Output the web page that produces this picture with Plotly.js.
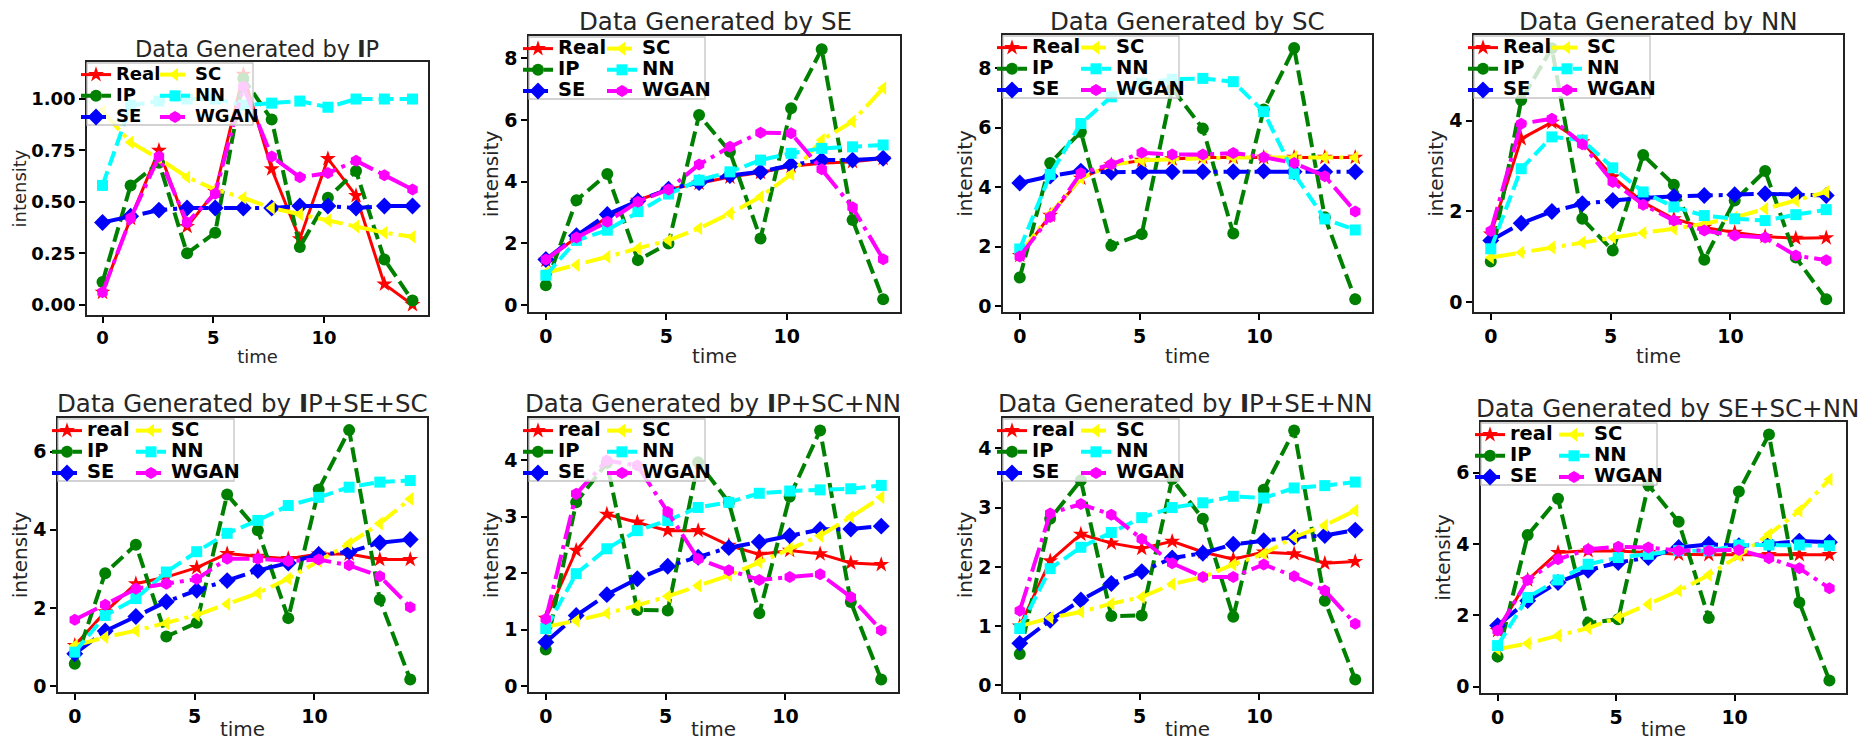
<!DOCTYPE html>
<html><head><meta charset="utf-8">
<script src="https://cdn.plot.ly/plotly-3.0.1.min.js"></script>
<style>html,body{margin:0;padding:0;background:#fff}#chart{width:1862px;height:741px}</style>
</head><body><div id="chart"></div>
<script>
// time points
const t = [0, 1.27, 2.55, 3.82, 5.09, 6.36, 7.64, 8.91, 10.18, 11.45, 12.73, 14];

// Panel 1: Data Generated by IP
const p1_real = [0.06, 0.42, 0.75, 0.38, 0.55, 1.12, 0.66, 0.32, 0.71, 0.53, 0.10, 0.00];
const p1_ip   = [0.11, 0.58, 0.69, 0.25, 0.35, 1.10, 0.90, 0.28, 0.52, 0.65, 0.22, 0.02];
const p1_se   = [0.40, 0.43, 0.46, 0.47, 0.47, 0.47, 0.47, 0.48, 0.48, 0.47, 0.48, 0.48];
const p1_sc   = [0.94, 0.79, 0.71, 0.62, 0.56, 0.52, 0.47, 0.44, 0.41, 0.38, 0.35, 0.33];
const p1_nn   = [0.58, 0.97, 0.99, 1.00, 1.00, 0.97, 0.98, 0.99, 0.96, 1.00, 1.00, 1.00];
const p1_wgan = [0.06, 0.42, 0.72, 0.40, 0.54, 1.06, 0.72, 0.62, 0.64, 0.70, 0.63, 0.56];

// Panel 2: Data Generated by SE
const p2_real = [1.45, 2.20, 2.85, 3.40, 3.75, 3.95, 4.15, 4.30, 4.50, 4.60, 4.65, 4.75];
const p2_ip   = [0.65, 3.40, 4.25, 1.46, 2.00, 6.16, 4.97, 2.16, 6.38, 8.29, 2.76, 0.19];
const p2_se   = [1.48, 2.25, 2.94, 3.38, 3.76, 3.97, 4.20, 4.32, 4.54, 4.70, 4.70, 4.76];
const p2_sc   = [1.05, 1.30, 1.57, 1.84, 2.10, 2.49, 2.97, 3.51, 4.24, 5.35, 5.95, 7.03];
const p2_nn   = [0.97, 2.10, 2.43, 3.03, 3.60, 4.05, 4.32, 4.70, 4.92, 5.08, 5.13, 5.19];
const p2_wgan = [1.48, 2.19, 2.70, 3.35, 3.75, 4.56, 5.13, 5.59, 5.57, 4.40, 3.17, 1.49];

// Panel 3: Data Generated by SC
const p3_real = [1.70, 3.05, 4.30, 4.75, 4.90, 4.95, 5.00, 5.00, 5.00, 5.00, 5.00, 5.00];
const p3_ip   = [0.96, 4.81, 5.86, 2.03, 2.42, 7.32, 5.97, 2.44, 6.61, 8.68, 2.99, 0.23];
const p3_se   = [4.14, 4.37, 4.54, 4.50, 4.52, 4.52, 4.52, 4.52, 4.54, 4.52, 4.52, 4.52];
const p3_sc   = [1.75, 3.10, 4.30, 4.75, 4.90, 4.95, 4.97, 5.00, 5.00, 5.00, 5.00, 5.00];
const p3_nn   = [1.92, 4.43, 6.14, 7.04, 7.50, 7.63, 7.66, 7.55, 6.54, 4.45, 2.93, 2.56];
const p3_wgan = [1.67, 3.00, 4.47, 4.77, 5.16, 5.10, 5.10, 5.15, 5.01, 4.81, 4.37, 3.18];

// Panel 4: Data Generated by NN
const p4_real = [1.50, 3.60, 3.96, 3.53, 2.76, 2.20, 1.84, 1.65, 1.54, 1.45, 1.41, 1.42];
const p4_ip   = [0.90, 4.45, 5.59, 1.84, 1.14, 3.24, 2.59, 0.94, 2.24, 2.89, 0.99, 0.07];
const p4_se   = [1.36, 1.74, 2.00, 2.17, 2.24, 2.30, 2.33, 2.35, 2.37, 2.39, 2.37, 2.35];
const p4_sc   = [0.99, 1.10, 1.21, 1.32, 1.43, 1.53, 1.62, 1.73, 1.87, 2.06, 2.24, 2.43];
const p4_nn   = [1.18, 2.94, 3.64, 3.57, 2.96, 2.43, 2.10, 1.91, 1.84, 1.80, 1.93, 2.04];
const p4_wgan = [1.57, 3.93, 4.04, 3.48, 2.65, 2.15, 1.80, 1.58, 1.47, 1.43, 1.03, 0.93];

// Panel 5: Data Generated by IP+SE+SC
const p5_real = [1.04, 1.90, 2.62, 2.79, 3.03, 3.39, 3.32, 3.26, 3.38, 3.38, 3.24, 3.24];
const p5_ip   = [0.57, 2.89, 3.62, 1.27, 1.62, 4.90, 3.99, 1.74, 5.03, 6.55, 2.21, 0.17];
const p5_se   = [0.83, 1.41, 1.78, 2.16, 2.45, 2.70, 2.96, 3.15, 3.37, 3.43, 3.67, 3.75];
const p5_sc   = [1.04, 1.25, 1.42, 1.61, 1.82, 2.10, 2.38, 2.75, 3.20, 3.65, 4.16, 4.79];
const p5_nn   = [0.87, 1.81, 2.24, 2.92, 3.44, 3.91, 4.24, 4.62, 4.83, 5.09, 5.22, 5.26];
const p5_wgan = [1.70, 2.08, 2.49, 2.62, 2.74, 3.26, 3.26, 3.20, 3.24, 3.09, 2.81, 2.02];

// Panel 6: Data Generated by IP+SC+NN
const p6_real = [1.20, 2.40, 3.04, 2.90, 2.75, 2.75, 2.49, 2.33, 2.40, 2.34, 2.18, 2.15];
const p6_ip   = [0.65, 3.25, 3.95, 1.35, 1.34, 3.96, 3.25, 1.29, 3.35, 4.52, 1.49, 0.12];
const p6_se   = [0.78, 1.25, 1.62, 1.90, 2.12, 2.28, 2.45, 2.55, 2.66, 2.77, 2.78, 2.83];
const p6_sc   = [1.05, 1.16, 1.29, 1.43, 1.59, 1.78, 1.96, 2.19, 2.43, 2.66, 2.99, 3.34];
const p6_nn   = [1.02, 1.99, 2.43, 2.75, 2.93, 3.16, 3.25, 3.41, 3.45, 3.47, 3.49, 3.55];
const p6_wgan = [1.19, 3.40, 3.99, 3.90, 3.08, 2.25, 2.05, 1.88, 1.93, 1.98, 1.58, 0.99];

// Panel 7: Data Generated by IP+SE+NN
const p7_real = [1.00, 2.10, 2.55, 2.40, 2.31, 2.43, 2.25, 2.13, 2.25, 2.22, 2.06, 2.09];
const p7_ip   = [0.53, 2.81, 3.46, 1.17, 1.18, 3.48, 2.81, 1.16, 3.30, 4.30, 1.43, 0.10];
const p7_se   = [0.71, 1.10, 1.44, 1.72, 1.92, 2.15, 2.23, 2.38, 2.44, 2.50, 2.53, 2.62];
const p7_sc   = [1.00, 1.14, 1.24, 1.38, 1.49, 1.71, 1.83, 2.04, 2.22, 2.50, 2.70, 2.95];
const p7_nn   = [0.96, 1.97, 2.33, 2.58, 2.83, 3.00, 3.08, 3.19, 3.16, 3.33, 3.37, 3.43];
const p7_wgan = [1.26, 2.90, 3.06, 2.88, 2.47, 2.06, 1.83, 1.83, 2.04, 1.84, 1.60, 1.04];

// Panel 8: Data Generated by SE+SC+NN
const p8_real = [1.57, 2.99, 3.76, 3.81, 3.80, 3.76, 3.71, 3.70, 3.70, 3.70, 3.70, 3.70];
const p8_ip   = [0.84, 4.25, 5.27, 1.78, 1.89, 5.65, 4.62, 1.92, 5.47, 7.07, 2.36, 0.17];
const p8_se   = [1.71, 2.41, 2.92, 3.26, 3.48, 3.62, 3.90, 3.99, 3.95, 4.00, 4.08, 4.05];
const p8_sc   = [1.05, 1.21, 1.43, 1.64, 1.94, 2.31, 2.69, 3.13, 3.67, 4.27, 4.93, 5.81];
const p8_nn   = [1.15, 2.50, 2.99, 3.43, 3.62, 3.71, 3.81, 3.81, 3.97, 3.97, 3.97, 3.95];
const p8_wgan = [1.57, 2.99, 3.57, 3.85, 3.92, 3.90, 3.81, 3.81, 3.83, 3.60, 3.32, 2.76];

const titles = ['Data Generated by <b>I</b>P', 'Data Generated by SE', 'Data Generated by SC', 'Data Generated by NN',
  'Data Generated by <b>I</b>P+SE+SC', 'Data Generated by <b>I</b>P+SC+NN', 'Data Generated by <b>I</b>P+SE+NN', 'Data Generated by SE+SC+NN'];
const realLabels = ['Real', 'Real', 'Real', 'Real', 'real', 'real', 'real', 'real'];
const otherLabels = ['IP', 'SE', 'SC', 'NN', 'WGAN'];

const seriesByPanel = [
  [p1_real, p1_ip, p1_se, p1_sc, p1_nn, p1_wgan],
  [p2_real, p2_ip, p2_se, p2_sc, p2_nn, p2_wgan],
  [p3_real, p3_ip, p3_se, p3_sc, p3_nn, p3_wgan],
  [p4_real, p4_ip, p4_se, p4_sc, p4_nn, p4_wgan],
  [p5_real, p5_ip, p5_se, p5_sc, p5_nn, p5_wgan],
  [p6_real, p6_ip, p6_se, p6_sc, p6_nn, p6_wgan],
  [p7_real, p7_ip, p7_se, p7_sc, p7_nn, p7_wgan],
  [p8_real, p8_ip, p8_se, p8_sc, p8_nn, p8_wgan]
];

// layout geometry (pixels): [left, right, top, bottom], title center, y range, tick step, text scale
const W = 1862, H = 741;
const SMALL = {title: 22.5, tick: 18, leg: 18, ax: 18, col2: 68, frame: 166};
const LARGE = {title: 24.5, tick: 19, leg: 19.5, ax: 20, col2: 73, frame: 176};
const geom = [
  {box:[87,428,62,315],   tc:[257,49],   yr:[-0.05,1.18], dt:0.25, fmt:'.2f', sz: SMALL},
  {box:[529,900,36,312],  tc:[715,22],   yr:[-0.22,8.72], dt:2, fmt:'', sz: LARGE},
  {box:[1003,1372,35,312],tc:[1187,22],  yr:[-0.2,9.12],  dt:2, fmt:'', sz: LARGE},
  {box:[1474,1843,35,312],tc:[1658,22],  yr:[-0.21,5.88], dt:2, fmt:'', sz: LARGE},
  {box:[58,427,418,692],  tc:[242,403],  yr:[-0.15,6.86], dt:2, fmt:'', sz: LARGE},
  {box:[529,898,418,692], tc:[713,403],  yr:[-0.1,4.74],  dt:1, fmt:'', sz: LARGE},
  {box:[1003,1372,418,692],tc:[1185,403],yr:[-0.11,4.51], dt:1, fmt:'', sz: LARGE},
  {box:[1481,1846,422,693],tc:[1667,408],yr:[-0.18,7.42], dt:2, fmt:'', sz: LARGE}
];

const styles = [
  {color:'#ff0000', dash:'solid', symbol:'star', size:12, lw:3},
  {color:'#008000', dash:'15px,6px', symbol:'circle', size:12, lw:4},
  {color:'#0000ff', dash:'25px,6px,4px,6px', symbol:'diamond', size:13, lw:4},
  {color:'#ffff00', dash:'25px,6px,4px,6px', symbol:'triangle-left', size:12, lw:4},
  {color:'#00ffff', dash:'15px,6px', symbol:'square', size:11, lw:4},
  {color:'#ff00ff', dash:'25px,6px,4px,6px', symbol:'hexagon', size:12, lw:4}
];

const FONT = 'DejaVu Sans';
const traces = [];
const layout = {
  width: W, height: H, margin: {l:0, r:0, t:0, b:0},
  paper_bgcolor: '#ffffff', plot_bgcolor: '#ffffff',
  font: {family: FONT, color: '#000'},
  showlegend: true, annotations: [], shapes: []
};

seriesByPanel.forEach((series, p) => {
  const i = p + 1;
  const g = geom[p];
  const sz = g.sz;
  const [l, r, tp, b] = g.box;
  const xk = i === 1 ? 'x' : 'x' + i, yk = i === 1 ? 'y' : 'y' + i;
  const leg1 = 'legend' + (2 * p + 1 === 1 ? '' : (2 * p + 1));
  const leg2 = 'legend' + (2 * p + 2);
  series.forEach((ys, s) => {
    const st = styles[s];
    const label = s === 0 ? realLabels[p] : otherLabels[s - 1];
    traces.push({
      type: 'scatter', mode: 'lines+markers', x: t, y: ys,
      xaxis: xk, yaxis: yk,
      name: '<span style="font-size:' + sz.leg + 'px">' + label + '</span>',
      legend: s < 3 ? leg1 : leg2,
      line: {color: st.color, width: st.lw, dash: st.dash},
      marker: {color: st.color, symbol: st.symbol, size: st.size, line: {width: 0}},
      hoverinfo: 'x+y'
    });
  });
  const tickfont = {family: FONT, size: sz.tick, weight: 'bold', color: '#000'};
  const axBase = {
    ticks: 'outside', ticklen: 6, tickwidth: 1.5, tickcolor: '#000',
    showline: true, mirror: true, linecolor: '#222', linewidth: 1.5,
    showgrid: false, zeroline: false, tickfont: tickfont
  };
  layout[i === 1 ? 'xaxis' : 'xaxis' + i] = Object.assign({}, axBase, {
    domain: [l / W, r / W], anchor: yk, range: [-0.7, 14.7], tick0: 0, dtick: 5,
    title: {text: 'time', font: {family: FONT, size: sz.ax, color: '#262626'}, standoff: 3}
  });
  layout[i === 1 ? 'yaxis' : 'yaxis' + i] = Object.assign({}, axBase, {
    domain: [1 - b / H, 1 - tp / H], anchor: xk, range: g.yr, tick0: 0, dtick: g.dt, tickformat: g.fmt,
    title: {text: 'intensity', font: {family: FONT, size: sz.ax, color: '#262626'}, standoff: 0}
  });
  const legFont = {family: FONT, size: 14, weight: 'bold', color: '#000'};
  const legBase = {xanchor: 'left', yanchor: 'top', bgcolor: 'rgba(0,0,0,0)', borderwidth: 0,
    font: legFont, orientation: 'v', itemclick: false, itemdoubleclick: false, tracegroupgap: 0};
  layout[leg1] = Object.assign({}, legBase, {x: (l - 11) / W, y: 1 - (tp - 3) / H});
  layout[leg2] = Object.assign({}, legBase, {x: (l + sz.col2) / W, y: 1 - (tp - 3) / H});
  // legend frame (semi-transparent, like matplotlib's framealpha 0.8)
  layout.shapes.push({type: 'rect', xref: 'paper', yref: 'paper', layer: 'above',
    x0: l / W, x1: (l + sz.frame) / W, y0: 1 - (tp + 1) / H, y1: 1 - (tp + 63) / H,
    fillcolor: 'rgba(255,255,255,0.8)', line: {color: '#c4c4c4', width: 1.3}});
  layout.annotations.push({xref: 'paper', yref: 'paper', x: g.tc[0] / W, y: 1 - g.tc[1] / H,
    xanchor: 'center', yanchor: 'middle', showarrow: false, text: titles[p],
    font: {family: FONT, size: sz.title, color: '#262626'}});
});

Plotly.newPlot('chart', traces, layout, {displayModeBar: false, responsive: false});
</script>
</body></html>
